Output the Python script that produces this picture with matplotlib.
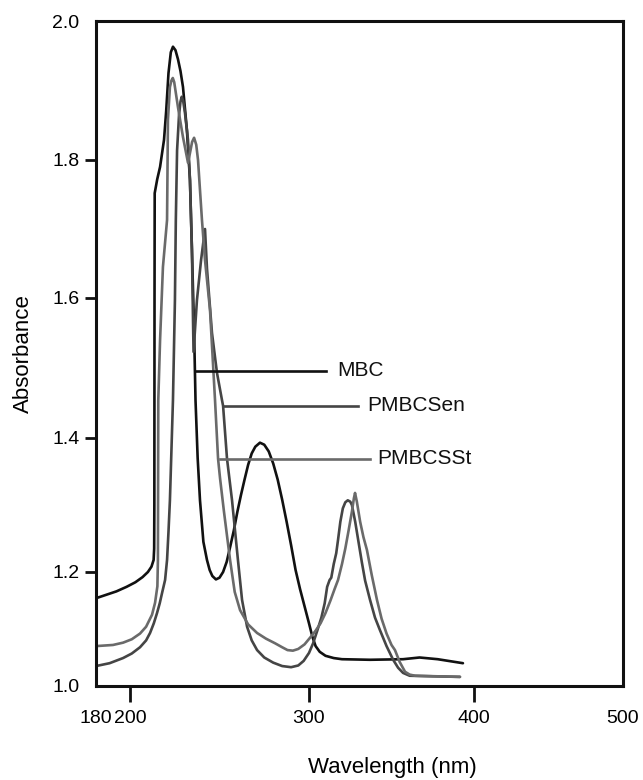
import numpy as np
import matplotlib
matplotlib.use("Agg")
import matplotlib.pyplot as plt

plt.rcParams['font.family'] = ['Liberation Sans', 'DejaVu Sans']

# ---- data ----
mbc_nm = [180, 186, 192, 198, 203, 207, 210, 212, 213.2, 213.5, 213.6, 213.7, 213.8, 215.2, 216.8,
          219.0, 220.2, 221.5, 222.8, 224.0, 225.4, 226.8, 228.2, 229.6, 231.8, 233.5, 234.6, 235.8,
          236.6, 237.8, 239.1, 241.0, 243.0, 244.5, 246.0, 248.0, 250.0, 252.0, 254.0, 256.0, 258.0,
          260.0, 262.0, 264.0, 266.0, 268.0, 270.0, 272.6, 275.0, 277.5, 280.0, 282.5, 285.0, 287.5,
          290.0, 292.5, 295.0, 297.5, 300.0, 302.0, 304.0, 306.5, 310.0, 315.0, 320.0, 337.0, 357.0,
          367.0, 378.0, 393.3]
mbc_abs = [1.154, 1.160, 1.166, 1.174, 1.182, 1.191, 1.200, 1.208, 1.218, 1.235, 1.300, 1.600, 1.752,
           1.772, 1.790, 1.829, 1.870, 1.925, 1.955, 1.963, 1.958, 1.945, 1.928, 1.905, 1.843, 1.771,
           1.670, 1.554, 1.454, 1.370, 1.307, 1.245, 1.218, 1.203, 1.193, 1.187, 1.190, 1.200, 1.215,
           1.238, 1.262, 1.290, 1.315, 1.338, 1.360, 1.377, 1.387, 1.393, 1.390, 1.380, 1.362, 1.338,
           1.308, 1.275, 1.240, 1.203, 1.170, 1.140, 1.110, 1.087, 1.070, 1.060, 1.053, 1.049, 1.047,
           1.046, 1.047, 1.050, 1.047, 1.040]

sen_nm = [180, 188, 195.9, 201, 205.6, 209, 211.2, 213.3, 215.1, 216.6, 217.9, 219.6, 220.7, 221.5,
          222.3, 224.0, 225.1, 225.6, 226.3, 227.4, 228.2, 228.9, 229.7, 230.7, 232.4, 233.5, 234.6,
          235.2, 235.5, 237.4, 239.7, 241.9, 243.0, 245.8, 248.6, 251.4, 252.0, 254.2, 257.0, 260.3,
          262.6, 265.4, 268.0, 271.0, 275.0, 280.0, 285.0, 290.0, 294.0, 297.0, 300.0, 302.5, 305.0,
          307.5, 309.5, 311.0, 312.5, 313.5, 315.0, 316.5, 317.6, 319.0, 320.5, 322.0, 323.5, 325.0,
          326.0, 328.0, 330.0, 332.0, 334.0, 337.0, 340.0, 343.0, 347.0, 351.0, 354.0, 357.0, 361.0,
          375.0, 391.5]
sen_abs = [1.035, 1.040, 1.049, 1.057, 1.068, 1.080, 1.093, 1.110, 1.128, 1.145, 1.163, 1.186, 1.218,
           1.260, 1.307, 1.454, 1.597, 1.713, 1.814, 1.865, 1.884, 1.891, 1.885, 1.868, 1.829, 1.771,
           1.670, 1.569, 1.523, 1.597, 1.655, 1.700, 1.643, 1.550, 1.493, 1.454, 1.446, 1.369, 1.307,
           1.218, 1.151, 1.104, 1.080, 1.063, 1.050, 1.041, 1.035, 1.033, 1.036, 1.044, 1.058, 1.075,
           1.097, 1.120, 1.145, 1.174, 1.186, 1.190, 1.212, 1.228, 1.248, 1.275, 1.295, 1.304, 1.307,
           1.305, 1.300, 1.275, 1.245, 1.215, 1.185, 1.151, 1.120, 1.098, 1.070, 1.046, 1.032, 1.023,
           1.018, 1.017, 1.016]

sst_nm = [180, 190, 195.9, 201, 205.6, 209, 212.3, 214.0, 215.3, 215.6, 215.8, 216.8, 218.4, 220.7,
          221.2, 222.3, 223.1, 223.9, 224.7, 225.4, 226.8, 229.6, 232.4, 233.5, 234.7, 235.8, 237.0,
          238.0, 240.2, 241.9, 244.7, 247.5, 249.2, 250.3, 252.5, 255.9, 258.5, 261.5, 266.0, 271.0,
          276.0, 281.0, 285.0, 288.0, 291.0, 294.0, 297.5, 301.0, 304.0, 307.0, 310.0, 313.0, 315.5,
          317.6, 320.0, 322.0, 324.0, 326.0, 327.2, 327.9, 329.0, 331.0, 333.0, 335.1, 338.0, 341.2,
          344.0, 347.0, 350.0, 352.1, 355.0, 358.2, 361.0, 364.3, 391.5]
sst_abs = [1.070, 1.072, 1.076, 1.082, 1.092, 1.104, 1.125, 1.146, 1.175, 1.218, 1.454, 1.540, 1.645,
           1.713, 1.858, 1.905, 1.914, 1.918, 1.912, 1.900, 1.876, 1.833, 1.796, 1.810, 1.826, 1.832,
           1.822, 1.800, 1.713, 1.655, 1.583, 1.454, 1.369, 1.340, 1.290, 1.218, 1.165, 1.133, 1.108,
           1.093, 1.083, 1.075, 1.068, 1.063, 1.062, 1.065, 1.073, 1.086, 1.097, 1.110, 1.128, 1.150,
           1.170, 1.186, 1.212, 1.235, 1.262, 1.290, 1.310, 1.318, 1.305, 1.275, 1.252, 1.233, 1.195,
           1.151, 1.118, 1.092, 1.072, 1.063, 1.042, 1.025, 1.020, 1.018, 1.016]

series_names = ["MBC", "PMBCSen", "PMBCSSt"]
label_x0 = [236.9, 251.9, 250.3]
label_x1 = [310.3, 329.7, 337.0]
label_y = [1.496, 1.446, 1.369]
label_tx = [317.0, 335.1, 341.2]

x_ticks = [180, 200, 300, 400, 500]
y_ticks = [1.0, 1.2, 1.4, 1.6, 1.8, 2.0]

colors = ["#111111", "#454545", "#6a6a6a"]

# ---- axis scales as drawn in the original (non-uniform spacing) ----
xk_data = [0, 180, 200, 300, 400, 500, 1000]
xk_pos = [-306, 0, 34, 213, 378, 527, 1272]
yk_data = [0.0, 1.0, 1.2, 1.4, 1.6, 1.8, 2.0, 3.0]
yk_pos = [-570, 0, 114, 248, 388, 526, 665, 1330]

def xf(v):
    return np.interp(v, xk_data, xk_pos)
def xi(v):
    return np.interp(v, xk_pos, xk_data)
def yf(v):
    return np.interp(v, yk_data, yk_pos)
def yi(v):
    return np.interp(v, yk_pos, yk_data)

fig = plt.figure(figsize=(6.43, 7.80), dpi=100)
ax = fig.add_axes([96/643, 94/780, 527/643, 665/780])
ax.set_xscale('function', functions=(xf, xi))
ax.set_yscale('function', functions=(yf, yi))
ax.set_xlim(180, 500)
ax.set_ylim(1.0, 2.0)

for xs, ys, c in zip([mbc_nm, sen_nm, sst_nm], [mbc_abs, sen_abs, sst_abs], colors):
    ax.plot(xs, ys, color=c, lw=1.9, solid_joinstyle='round', solid_capstyle='round')

for name, x0, x1, yv, tx, c in zip(series_names, label_x0, label_x1, label_y, label_tx, colors):
    ax.plot([x0, x1], [yv, yv], color=c, lw=1.9)
    ax.text(tx, yv, name, fontsize=15, va='center', ha='left', color='#111111')

for s in ax.spines.values():
    s.set_linewidth(2.2)
    s.set_color('#111111')

ax.set_xticks(x_ticks)
ax.set_xticklabels([str(t) for t in x_ticks], fontsize=14)
ax.set_yticks(y_ticks)
ax.set_yticklabels([f"{t:.1f}" for t in y_ticks], fontsize=14)
ax.minorticks_off()
ax.tick_params(axis='x', direction='out', length=11.5, width=2.0, pad=6, color='#111111')
ax.tick_params(axis='y', direction='out', length=8, width=2.0, pad=4, color='#111111')
for t in (ax.xaxis.get_major_ticks()[0], ax.xaxis.get_major_ticks()[-1],
          ax.yaxis.get_major_ticks()[0], ax.yaxis.get_major_ticks()[-1]):
    t.tick1line.set_visible(False)

ax.set_ylabel("Absorbance", fontsize=16)
ax.yaxis.set_label_coords(-0.118, 0.5)
fig.text(392/643, 1 - 768/780, "Wavelength (nm)", fontsize=16, ha='center', va='center')

fig.savefig("out.png", dpi=100)
